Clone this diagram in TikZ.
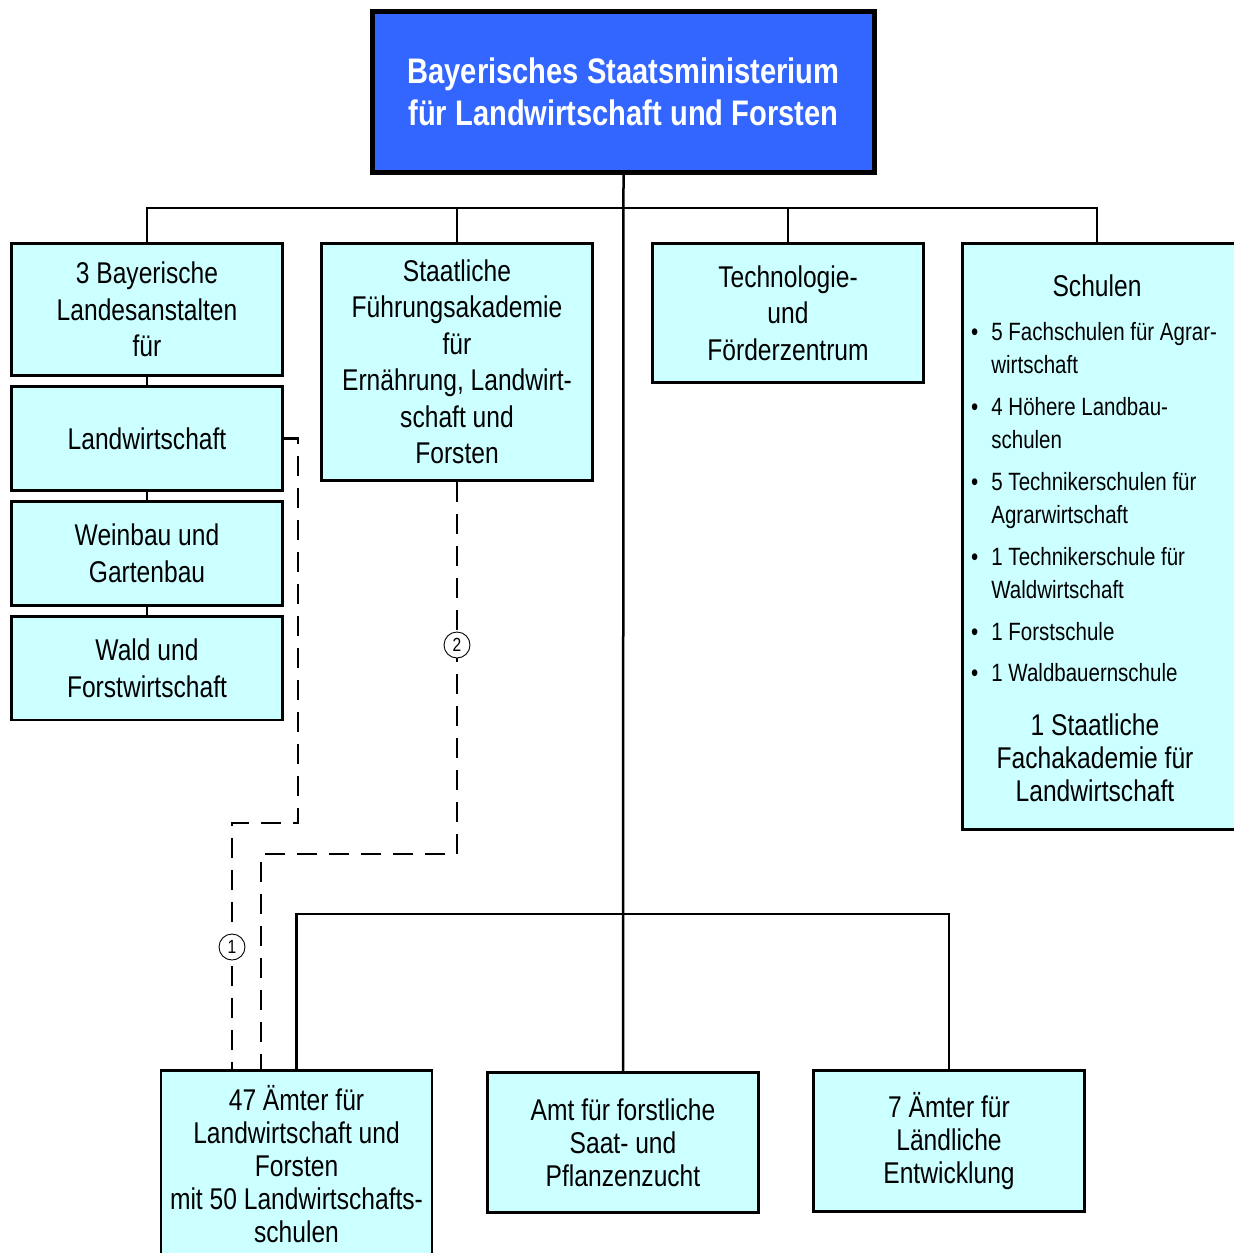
\documentclass[tikz,border=0pt]{standalone}
\usepackage{fontspec}
\setmainfont{Liberation Sans}[FakeStretch=0.82]
\usetikzlibrary{positioning}
\definecolor{stmblue}{HTML}{3366FF}
\definecolor{stmcyan}{HTML}{CCFFFF}
\tikzset{
  box/.style={draw=black,fill=stmcyan,line width=2.8pt,align=center,inner sep=0pt,
              minimum width=271pt,font=\fontsize{30}{36.5}\selectfont},
  lowbox/.style={box,font=\fontsize{30}{33}\selectfont},
  head/.style={draw=black,fill=stmblue,line width=5pt,align=center,inner sep=0pt,
              minimum width=502pt,minimum height=161pt,text=white,
              font=\bfseries\fontsize{35.5}{42}\selectfont},
  txt/.style={align=center,inner sep=0pt,font=\fontsize{30}{33}\selectfont},
  lst/.style={inner sep=0pt,font=\fontsize{25}{33}\selectfont},
  ln/.style={line width=2.5pt,black},
  dsh/.style={line width=2.5pt,black,dash pattern=on 20pt off 12pt},
  num/.style={circle,draw=black,fill=white,line width=0.9pt,inner sep=0pt,
              minimum size=26pt,font=\fontsize{19}{19}\selectfont},
}
\begin{document}
\begin{tikzpicture}[x=1pt,y=-1pt,node distance=8.5pt]
  \useasboundingbox (0,0) rectangle (1234,1253);
  % Ministerium
  \node[head] (min) at (623.5,92) {Bayerisches Staatsministerium\\für Landwirtschaft und Forsten};
  % obere Ebene
  \node[box,minimum height=132pt] (anst) at (147,309.5) {3 Bayerische\\Landesanstalten\\für};
  \node[box,minimum height=103.5pt,below=of anst] (lw) {Landwirtschaft};
  \node[box,minimum height=103.5pt,below=of lw] (wg) {Weinbau und\\Gartenbau};
  \node[box,minimum height=103.5pt,below=of wg] (wf) {Wald und\\Forstwirtschaft};
  \node[box,minimum height=237pt] (fak) at (457,362) {Staatliche\\Führungsakademie\\für\\Ernährung, Landwirt-\\schaft und\\Forsten};
  \node[box,minimum height=139pt] (tfz) at (788,313) {Technologie-\\und\\Förderzentrum};
  \node[box,minimum width=290pt,minimum height=586pt] (schulen) at (1107.5,536.5) {};
  \node[txt] (stitel) at (1097,286) {Schulen};
  \node[lst,anchor=north west] (sliste) at (971,317) {%
    \begin{tabular}{@{}l@{\hspace{13pt}}l@{}}
      \textbullet & 5 Fachschulen für Agrar-\\
                  & wirtschaft\\[9pt]
      \textbullet & 4 Höhere Landbau-\\
                  & schulen\\[9pt]
      \textbullet & 5 Technikerschulen für\\
                  & Agrarwirtschaft\\[9pt]
      \textbullet & 1 Technikerschule für\\
                  & Waldwirtschaft\\[9pt]
      \textbullet & 1 Forstschule\\[8pt]
      \textbullet & 1 Waldbauernschule
    \end{tabular}};
  \node[txt] (fakad) at (1095,758) {1 Staatliche\\Fachakademie für\\Landwirtschaft};
  % untere Ebene
  \node[lowbox,minimum height=188pt] (aelf) at (296.5,1164.5) {47 Ämter für\\Landwirtschaft und\\Forsten\\mit 50 Landwirtschafts-\\schulen};
  \node[lowbox,minimum height=140pt] (amt) at (623,1142.5) {Amt für forstliche\\Saat- und\\Pflanzenzucht};
  \node[lowbox,minimum height=141pt] (ale) at (949,1141) {7 Ämter für\\Ländliche\\Entwicklung};
  % Verbindungen
  \coordinate (top) at (0,208);
  \coordinate (bot) at (0,914);
  \draw[ln] (min.south) -- (amt.north);
  \draw[ln] (anst.north) |- (stitel.north |- top) -- (stitel.north |- schulen.north);
  \draw[ln] (fak.north) -- (fak.north |- top);
  \draw[ln] (tfz.north) -- (tfz.north |- top);
  \draw[ln] (anst.south) -- (lw.north);
  \draw[ln] (lw.south) -- (wg.north);
  \draw[ln] (wg.south) -- (wf.north);
  \draw[ln] (aelf.north) |- (ale.north |- bot) -- (ale.north);
  % Fachaufsicht
  \coordinate (k1) at (298,823);
  \coordinate (k2) at (457,854);
  \draw[dsh] (lw.east) -| (k1) -| ([xshift=-64.5pt]aelf.north);
  \draw[dsh] (fak.south) -- (k2) -| ([xshift=-35.5pt]aelf.north);
  \node[num] (n1) at (232,947) {1};
  \node[num] (n2) at (457,645) {2};
\end{tikzpicture}
\end{document}
